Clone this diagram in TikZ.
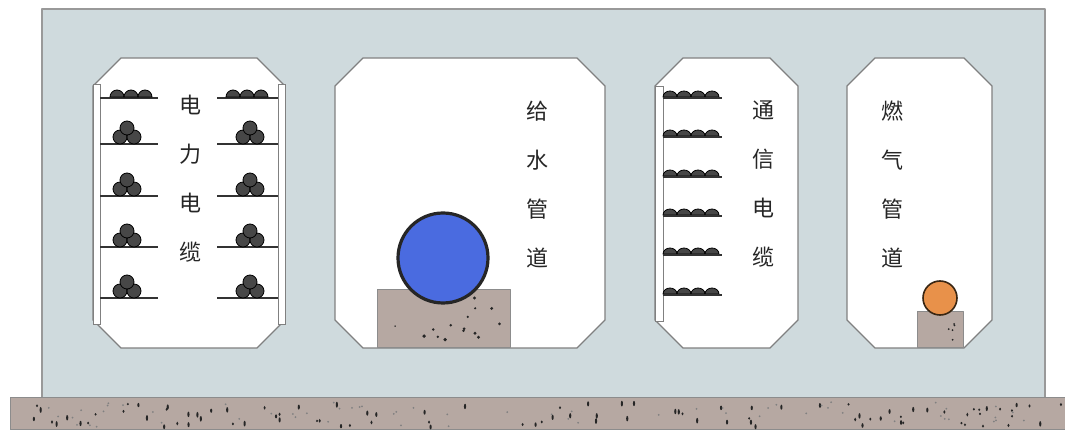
\documentclass[tikz,border=0pt]{standalone}
\usepackage{fontspec}
\usepackage{tikz, tkz-euclide}
\newfontfamily\cjk{Noto Sans CJK SC}

\definecolor{concrete}{HTML}{CFDADD}
\definecolor{mortar}{HTML}{B6A8A2}
\definecolor{waterblue}{HTML}{4A6BE0}
\definecolor{gasorange}{HTML}{E8914A}

\begin{document}
\begin{tikzpicture}[x=0.5pt, y=-0.5pt,
		wall/.style={draw=gray!80, fill=concrete, line width=0.6pt},
		room/.style={draw=gray, fill=white, line width=0.6pt},
		footing/.style={draw=gray!90, fill=mortar, line width=0.5pt},
		post/.style={draw=gray, fill=white, line width=0.5pt},
		shelf/.style={draw=black!80, line width=1.1pt},
		cable/.style={draw=black, fill=black!72, line width=0.4pt},
		speck/.style={fill=black!85},
		label/.style={font=\cjk\fontsize{11}{24.5}\selectfont, text=black!85, inner sep=0pt, align=center}]

		\useasboundingbox (0,0) rectangle (1065,432);

		\tkzDefPoint(42,9){B1}
		\tkzDefPoint(1045,9){B2}
		\tkzDefPoint(1045,398){B3}
		\tkzDefPoint(42,398){B4}
		\tkzDrawPolygon[wall](B1,B2,B3,B4)

		\tkzDefPoint(10,398){G1}
		\tkzDefPoint(1068,398){G2}
		\tkzDefPoint(1068,430){G3}
		\tkzDefPoint(10,430){G4}
		\tkzDrawPolygon[footing](G1,G2,G3,G4)

		\foreach \xa/\xb in {93/285, 335/605, 655/798, 847/992}
			\draw[room] (\xa+28,58) -- (\xb-28,58) -- (\xb,86) -- (\xb,320)
				-- (\xb-28,348) -- (\xa+28,348) -- (\xa,320) -- (\xa,86) -- cycle;

		\tkzDefPoint(377,290){W1}
		\tkzDefPoint(510,290){W2}
		\tkzDefPoint(510,348){W3}
		\tkzDefPoint(377,348){W4}
		\tkzDrawPolygon[footing](W1,W2,W3,W4)

		\tkzDefPoint(917,312){Q1}
		\tkzDefPoint(963,312){Q2}
		\tkzDefPoint(963,348){Q3}
		\tkzDefPoint(917,348){Q4}
		\tkzDrawPolygon[footing](Q1,Q2,Q3,Q4)

		\pgfmathsetseed{17}
		\foreach \k in {1,...,95} {
			\pgfmathsetmacro\px{14+1048*rnd}
			\pgfmathsetmacro\py{403+24*rnd}
			\pgfmathsetmacro\ph{1.2+1.8*rnd}
			\fill[speck] (\px,\py) ellipse [x radius=1.1, y radius=\ph];
		}
		\foreach \k in {1,...,60} {
			\pgfmathsetmacro\px{14+1048*rnd}
			\pgfmathsetmacro\py{402+25*rnd}
			\fill[black!50] (\px,\py) circle [radius=1];
		}
		\begin{scope}
			\clip (W1) rectangle (W3);
			\foreach \k in {1,...,16} {
				\pgfmathsetmacro\px{382+124*rnd}
				\pgfmathsetmacro\py{296+48*rnd}
				\pgfmathsetmacro\pr{0.8+1.2*rnd}
				\fill[speck] (\px,\py) circle [radius=\pr];
			}
		\end{scope}
		\begin{scope}
			\clip (Q1) rectangle (Q3);
			\foreach \k in {1,...,5} {
				\pgfmathsetmacro\px{921+38*rnd}
				\pgfmathsetmacro\py{318+26*rnd}
				\fill[speck] (\px,\py) circle [radius=1];
			}
		\end{scope}

		% power cable racks
		\draw[post] (93,85) rectangle (100,325);
		\draw[post] (278,85) rectangle (285,325);
		\foreach \sy in {98,144,196,247,298} {
			\draw[shelf] (100,\sy) -- (158,\sy);
			\draw[shelf] (217,\sy) -- (278,\sy);
		}
		\foreach \cx in {117,131,145,233,247,261}
			\draw[cable] (\cx-7,97) arc [start angle=180, end angle=360, radius=7] -- cycle;
		\foreach \sy in {144,196,247,298}
			\foreach \cx in {127,250} {
				\draw[cable] (\cx-7,\sy-7) circle [radius=7];
				\draw[cable] (\cx+7,\sy-7) circle [radius=7];
				\draw[cable] (\cx,\sy-16) circle [radius=7];
			}

		% telecom rack
		\draw[post] (655,87) rectangle (663,322);
		\foreach \sy in {98,137,177,216,255,295} {
			\foreach \cx in {670,684,698,712}
				\draw[cable] (\cx-7,\sy-1) arc [start angle=180, end angle=360, x radius=7, y radius=6] -- cycle;
			\draw[shelf] (663,\sy) -- (722,\sy);
		}

		\tkzDefPoint(443,258){W}
		\draw[draw=black!85, fill=waterblue, line width=1.6pt] (W) circle [radius=45];
		\tkzDefPoint(940,298){Q}
		\draw[draw=black!70!brown, fill=gasorange, line width=0.8pt] (Q) circle [radius=17];

		\node[label] (power) at (190,179) {电\\力\\电\\缆};
		\node[label] (water) at (537,185) {给\\水\\管\\道};
		\node[label] (telecom) at (763,184) {通\\信\\电\\缆};
		\node[label] (gas) at (892,184) {燃\\气\\管\\道};
	\end{tikzpicture}
\end{document}
